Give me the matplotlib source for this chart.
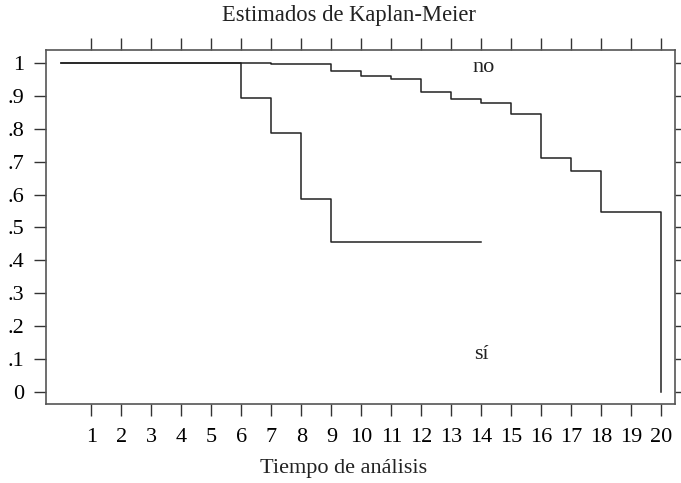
import matplotlib.pyplot as plt

plt.rcParams['font.family'] = ['Liberation Serif', 'DejaVu Serif']

# Kaplan-Meier survival estimates (step changes at each time)
t_no = [0, 7, 9, 10, 11, 12, 13, 14, 15, 16, 17, 18, 20, 20]
s_no = [1.0, 0.997, 0.977, 0.961, 0.952, 0.914, 0.890, 0.879, 0.846, 0.711, 0.671, 0.547, 0.0, 0.0]

t_si = [0, 6, 7, 8, 9, 14]
s_si = [1.0, 0.895, 0.788, 0.587, 0.456, 0.456]

xticks = list(range(1, 21))
yticks = [0, .1, .2, .3, .4, .5, .6, .7, .8, .9, 1]
ylabels = ['0', '.1', '.2', '.3', '.4', '.5', '.6', '.7', '.8', '.9', '1']

fig = plt.figure(figsize=(6.81, 4.83), dpi=100)
ax = fig.add_axes([46 / 681, 1 - 404 / 483, (675 - 46) / 681, (404 - 50) / 483])

ax.step(t_no, s_no, where='post', color='#222222', lw=1.1)
ax.step(t_si, s_si, where='post', color='#222222', lw=1.1)

ax.text(14.08, 0.988, 'no', fontsize=16, ha='center', va='center', color='#222222')
ax.text(14.0, 0.112, 'sí', fontsize=16, ha='center', va='center', color='#222222')

ax.set_xlim(-0.51, 20.45)
ax.set_ylim(-0.0375, 1.0405)
ax.set_xticks(xticks)
ax.set_xticklabels([str(x) for x in xticks])
ax.set_yticks(yticks)
ax.set_yticklabels(ylabels)

ax.tick_params(axis='x', which='both', top=True, bottom=True, direction='out',
               length=8.5, width=1, color='#333333', labelsize=16, pad=9)
ax.tick_params(axis='y', which='both', left=True, right=True, direction='out',
               length=8.5, width=1, color='#333333', labelsize=16, pad=7)
for s in ax.spines.values():
    s.set_color('#555555')
    s.set_linewidth(1.2)

fig.text(349 / 681, 1 - 15 / 483, 'Estimados de Kaplan-Meier', fontsize=16.3,
         ha='center', va='center', color='#222222')
fig.text(344 / 681, 1 - 468 / 483, 'Tiempo de análisis', fontsize=16,
         ha='center', va='center', color='#222222')

fig.savefig('out.png', dpi=100)
